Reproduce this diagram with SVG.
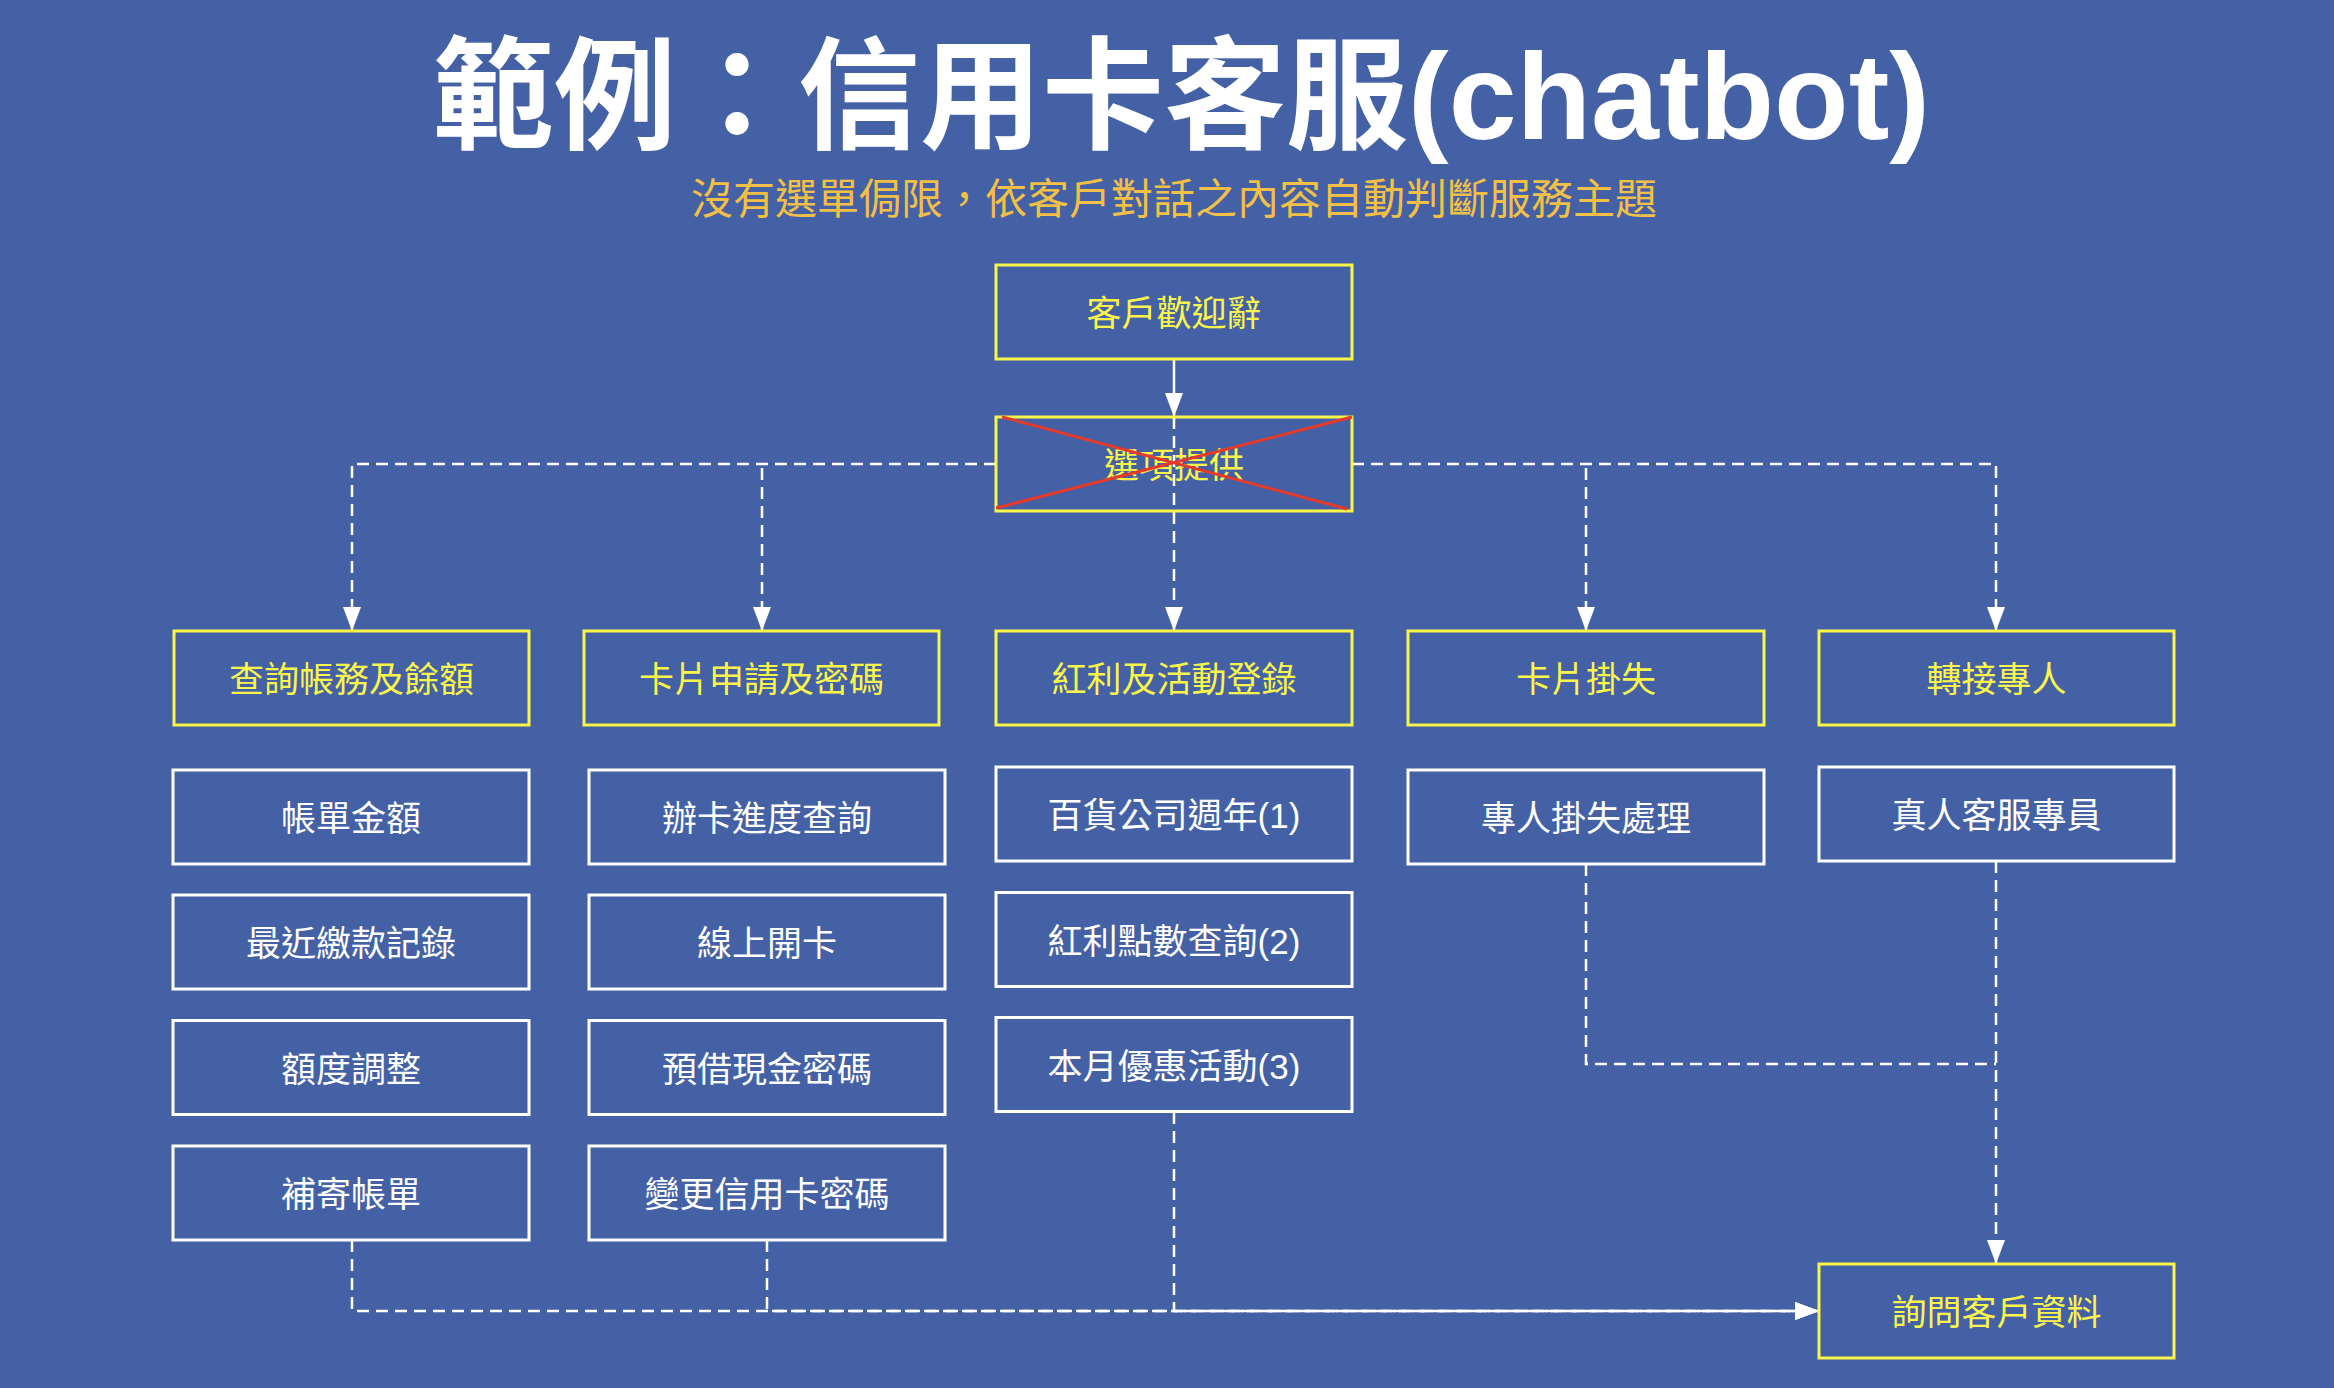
<svg xmlns="http://www.w3.org/2000/svg" width="2334" height="1388" viewBox="0 0 2334 1388">
<defs>
<style>
.bg{fill:#4461A5}
.ybox{fill:none;stroke:#FAF54A;stroke-width:3}
.wbox{fill:none;stroke:#FFFFFF;stroke-width:3}
.yt{fill:#FAF54A;font-family:"Liberation Sans","Noto Sans CJK TC",sans-serif;font-size:35px;text-anchor:middle}
.wt{fill:#FFFFFF;font-family:"Liberation Sans","Noto Sans CJK TC",sans-serif;font-size:35px;text-anchor:middle}
.solid{fill:none;stroke:#FFFFFF;stroke-width:2.5}
.dash{fill:none;stroke:#FFFFFF;stroke-width:2.5;stroke-dasharray:12 7}
</style>
<marker id="arr" markerUnits="userSpaceOnUse" markerWidth="26" markerHeight="20" refX="24" refY="9" orient="auto">
<path d="M0,0 L24,9 L0,18 z" fill="#FFFFFF"/>
</marker>
</defs>
<rect class="bg" x="0" y="0" width="2334" height="1388"/>
<g id="title">
<text x="1181" y="139" font-family="'Liberation Sans','Noto Sans CJK TC',sans-serif" font-size="122" font-weight="bold" fill="#FFFFFF" text-anchor="middle">範例：信用卡客服(chatbot)</text>
<text x="1174" y="214" font-family="'Liberation Sans','Noto Sans CJK TC',sans-serif" font-size="42" fill="#F3C045" text-anchor="middle">沒有選單侷限，依客戶對話之內容自動判斷服務主題</text>
</g>
<g id="connectors">
<path class="solid" d="M1174 359 V417" marker-end="url(#arr)"/>
<path class="dash" d="M1174 417 V631" marker-end="url(#arr)"/>
<path class="dash" d="M996 464 H352 V631" marker-end="url(#arr)"/>
<path class="dash" d="M762 468 V631" marker-end="url(#arr)"/>
<path class="dash" d="M1352 464 H1996 V631" marker-end="url(#arr)"/>
<path class="dash" d="M1586 468 V631" marker-end="url(#arr)"/>
<path class="dash" d="M352 1240 V1311 H1819" marker-end="url(#arr)"/>
<path class="dash" d="M767 1240 V1311 H1819" marker-end="url(#arr)"/>
<path class="dash" d="M1174 1112 V1311 H1819" marker-end="url(#arr)"/>
<path class="dash" d="M1586 864 V1064 H1996"/>
<path class="dash" d="M1996 861 V1264" marker-end="url(#arr)"/>
</g>
<g id="n-welcome"><rect class="ybox" x="996" y="265" width="356" height="94"/><text class="yt" x="1174" y="326">客戶歡迎辭</text></g>
<g id="n-options"><rect class="ybox" x="996" y="417" width="356" height="94"/><text class="yt" x="1174" y="478">選項提供</text>
<path d="M1002 417 L1347 509 M996 508 L1352 417" stroke="#E53A2B" stroke-width="3" fill="none"/></g>
<g id="n-cat1"><rect class="ybox" x="174" y="631" width="355" height="94"/><text class="yt" x="351.5" y="692">查詢帳務及餘額</text></g>
<g id="n-cat2"><rect class="ybox" x="584" y="631" width="355" height="94"/><text class="yt" x="761.5" y="692">卡片申請及密碼</text></g>
<g id="n-cat3"><rect class="ybox" x="996" y="631" width="356" height="94"/><text class="yt" x="1174" y="692">紅利及活動登錄</text></g>
<g id="n-cat4"><rect class="ybox" x="1408" y="631" width="356" height="94"/><text class="yt" x="1586" y="692">卡片掛失</text></g>
<g id="n-cat5"><rect class="ybox" x="1819" y="631" width="355" height="94"/><text class="yt" x="1996.5" y="692">轉接專人</text></g>
<g id="n-c1r1"><rect class="wbox" x="173" y="770" width="356" height="94"/><text class="wt" x="351" y="831">帳單金額</text></g>
<g id="n-c1r2"><rect class="wbox" x="173" y="895" width="356" height="94"/><text class="wt" x="351" y="956">最近繳款記錄</text></g>
<g id="n-c1r3"><rect class="wbox" x="173" y="1020.5" width="356" height="94"/><text class="wt" x="351" y="1081.5">額度調整</text></g>
<g id="n-c1r4"><rect class="wbox" x="173" y="1146" width="356" height="94"/><text class="wt" x="351" y="1207">補寄帳單</text></g>
<g id="n-c2r1"><rect class="wbox" x="589" y="770" width="356" height="94"/><text class="wt" x="767" y="831">辦卡進度查詢</text></g>
<g id="n-c2r2"><rect class="wbox" x="589" y="895" width="356" height="94"/><text class="wt" x="767" y="956">線上開卡</text></g>
<g id="n-c2r3"><rect class="wbox" x="589" y="1020.5" width="356" height="94"/><text class="wt" x="767" y="1081.5">預借現金密碼</text></g>
<g id="n-c2r4"><rect class="wbox" x="589" y="1146" width="356" height="94"/><text class="wt" x="767" y="1207">變更信用卡密碼</text></g>
<g id="n-c3r1"><rect class="wbox" x="996" y="767" width="356" height="94"/><text class="wt" x="1174" y="828">百貨公司週年(1)</text></g>
<g id="n-c3r2"><rect class="wbox" x="996" y="892.5" width="356" height="94"/><text class="wt" x="1174" y="953.5">紅利點數查詢(2)</text></g>
<g id="n-c3r3"><rect class="wbox" x="996" y="1017.5" width="356" height="94"/><text class="wt" x="1174" y="1078.5">本月優惠活動(3)</text></g>
<g id="n-c4r1"><rect class="wbox" x="1408" y="770" width="356" height="94"/><text class="wt" x="1586" y="831">專人掛失處理</text></g>
<g id="n-c5r1"><rect class="wbox" x="1819" y="767" width="355" height="94"/><text class="wt" x="1996.5" y="828">真人客服專員</text></g>
<g id="n-ask"><rect class="ybox" x="1819" y="1264" width="355" height="94"/><text class="yt" x="1996.5" y="1325">詢問客戶資料</text></g>
</svg>
